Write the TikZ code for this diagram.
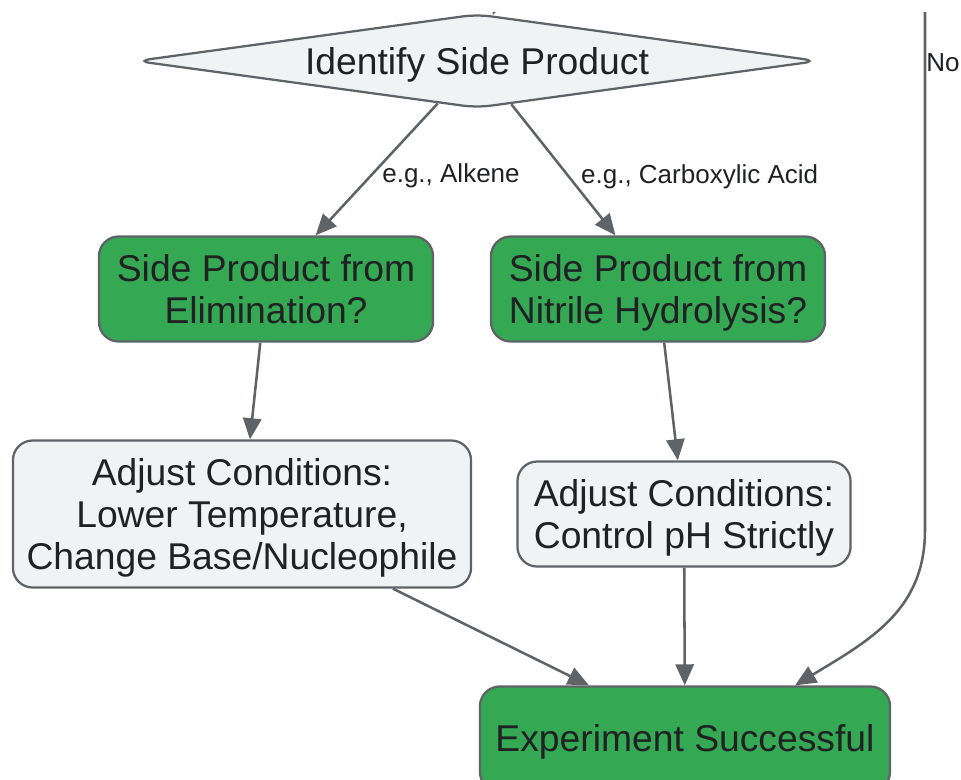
\documentclass[tikz,border=0pt]{standalone}
\usepackage{fontspec}
\setmainfont{Liberation Sans}
\usetikzlibrary{arrows.meta,shapes.geometric}
\definecolor{edgegray}{HTML}{5F6368}
\definecolor{boxgray}{HTML}{F1F2F4}
\definecolor{okgreen}{HTML}{34A853}
\definecolor{textdark}{HTML}{202124}
\begin{document}
\begin{tikzpicture}[x=0.025cm, y=-0.025cm,
    >={Triangle[length=15pt,width=13pt]},
    every node/.style={text=textdark},
    box/.style={draw=edgegray, line width=1.6pt, rounded corners=14pt, align=center,
      font=\fontsize{26.5}{30}\selectfont, inner sep=0pt, text depth=-5pt},
    greybox/.style={box, fill=boxgray},
    greenbox/.style={box, fill=okgreen},
    choice/.style={draw=edgegray, line width=1.6pt, fill=boxgray, diamond, aspect=7.25,
      inner sep=0pt, rounded corners=10pt, font=\fontsize{26.5}{30}\selectfont, text depth=0pt},
    arr/.style={->, draw=edgegray, line width=1.8pt},
    lbl/.style={font=\fontsize{18.5}{22}\selectfont, inner sep=2pt}]
    \useasboundingbox (0,0) rectangle (961,779);
    % Nodes
    \node[choice, minimum width=17.05cm, minimum height=2.35cm] (side) at (477,61) {Identify Side Product};
    \node[greenbox, minimum width=8.35cm, minimum height=2.625cm] (elim) at (266,289) {Side Product from\\Elimination?};
    \node[greenbox, minimum width=8.35cm, minimum height=2.625cm] (hydro) at (658,289) {Side Product from\\Nitrile Hydrolysis?};
    \node[greybox, minimum width=11.45cm, minimum height=3.675cm] (temp) at (242,514) {Adjust Conditions:\\Lower Temperature,\\Change Base/Nucleophile};
    \node[greybox, minimum width=8.325cm, minimum height=2.625cm] (ph) at (684,514) {Adjust Conditions:\\Control pH Strictly};
    \node[greenbox, minimum width=10.25cm, minimum height=2.625cm, text depth=1pt] (done) at (685,739) {Experiment Successful};
    \coordinate (intop) at (505,-20);
    \coordinate (notop) at (925,-20);
    % Arrows connecting the nodes
    \begin{scope}
      \clip (0,12) rectangle (961,779);
      \draw[arr] (intop) -- (side);
      \draw[arr] (notop) -- node[lbl, right=-2pt, pos=0.15] {No} (925,530)
        .. controls (925,610) and (870,640) .. ([xshift=2.75cm]done.north);
    \end{scope}
    \draw[arr] (side) -- node[lbl, right=5.5pt, pos=0.55] {e.g., Alkene} (elim);
    \draw[arr] (side) -- node[lbl, right=6pt, pos=0.55] {e.g., Carboxylic Acid} (hydro);
    \draw[arr] (elim) -- (temp);
    \draw[arr] (hydro) -- (ph);
    \draw[arr] (temp) -- ([xshift=-2.4cm]done.north);
    \draw[arr] (ph) -- (done);
\end{tikzpicture}
\end{document}
